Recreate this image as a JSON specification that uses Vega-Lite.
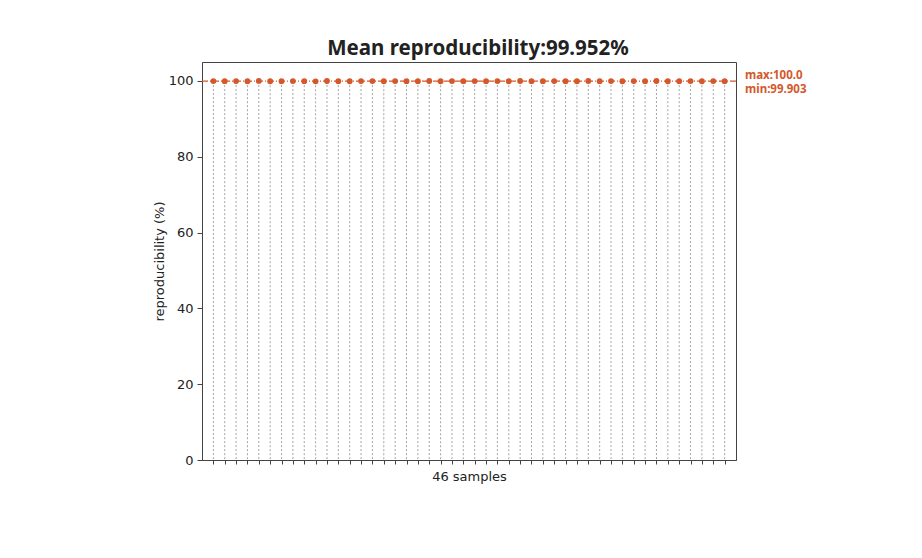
{
  "$schema": "https://vega.github.io/schema/vega-lite/v6.json",
  "width": 534,
  "height": 398,
  "autosize": {"type": "none"},
  "padding": {"left": 202, "top": 62, "right": 186, "bottom": 98},
  "background": "white",
  "config": {
    "view": {"stroke": "#444", "strokeWidth": 1},
    "font": "DejaVu Sans"
  },
  "title": {
    "text": "Mean reproducibility:99.952%",
    "font": "Noto Sans",
    "fontSize": 20.5,
    "fontWeight": "bold",
    "color": "#222",
    "anchor": "middle",
    "dx": 9,
    "offset": 3
  },
  "data": {
    "values": [
      {"sample": 1, "value": 99.961}, {"sample": 2, "value": 99.948}, {"sample": 3, "value": 99.972},
      {"sample": 4, "value": 99.935}, {"sample": 5, "value": 100.0}, {"sample": 6, "value": 99.927},
      {"sample": 7, "value": 99.954}, {"sample": 8, "value": 99.968}, {"sample": 9, "value": 99.941},
      {"sample": 10, "value": 99.903}, {"sample": 11, "value": 99.982}, {"sample": 12, "value": 99.950},
      {"sample": 13, "value": 99.930}, {"sample": 14, "value": 99.965}, {"sample": 15, "value": 99.958},
      {"sample": 16, "value": 99.921}, {"sample": 17, "value": 99.976}, {"sample": 18, "value": 99.944},
      {"sample": 19, "value": 99.952}, {"sample": 20, "value": 99.989}, {"sample": 21, "value": 99.917},
      {"sample": 22, "value": 99.960}, {"sample": 23, "value": 99.938}, {"sample": 24, "value": 99.970},
      {"sample": 25, "value": 99.946}, {"sample": 26, "value": 99.956}, {"sample": 27, "value": 99.912},
      {"sample": 28, "value": 99.985}, {"sample": 29, "value": 99.949}, {"sample": 30, "value": 99.934},
      {"sample": 31, "value": 99.966}, {"sample": 32, "value": 99.953}, {"sample": 33, "value": 99.928},
      {"sample": 34, "value": 99.979}, {"sample": 35, "value": 99.943}, {"sample": 36, "value": 99.957},
      {"sample": 37, "value": 99.924}, {"sample": 38, "value": 99.963}, {"sample": 39, "value": 99.951},
      {"sample": 40, "value": 99.995}, {"sample": 41, "value": 99.932}, {"sample": 42, "value": 99.947},
      {"sample": 43, "value": 99.969}, {"sample": 44, "value": 99.915}, {"sample": 45, "value": 99.958},
      {"sample": 46, "value": 99.940}
    ]
  },
  "encoding": {
    "x": {
      "field": "sample",
      "type": "quantitative",
      "scale": {"domain": [0, 47], "nice": false, "zero": false},
      "axis": {
        "title": "46 samples",
        "titleFont": "DejaVu Sans",
        "titleFontSize": 13,
        "titleFontWeight": "normal",
        "titleColor": "#222",
        "titlePadding": 6,
        "values": [1,2,3,4,5,6,7,8,9,10,11,12,13,14,15,16,17,18,19,20,21,22,23,24,25,26,27,28,29,30,31,32,33,34,35,36,37,38,39,40,41,42,43,44,45,46],
        "labels": false,
        "grid": false,
        "tickSize": 4,
        "tickColor": "#444",
        "domainColor": "#444"
      }
    },
    "y": {
      "field": "value",
      "type": "quantitative",
      "scale": {"domain": [0, 105], "nice": false},
      "axis": {
        "title": "reproducibility (%)",
        "titleFont": "DejaVu Sans",
        "titleFontSize": 13,
        "titleFontWeight": "normal",
        "titleColor": "#222",
        "titlePadding": 2,
        "values": [0, 20, 40, 60, 80, 100],
        "labelFont": "DejaVu Sans",
        "labelFontSize": 13,
        "labelColor": "#222",
        "labelPadding": 4,
        "grid": false,
        "tickSize": 5,
        "tickColor": "#444",
        "domainColor": "#444"
      }
    }
  },
  "layer": [
    {
      "mark": {"type": "rule", "color": "#999999", "strokeWidth": 0.9, "strokeDash": [2, 2]},
      "encoding": {"y2": {"datum": 0}}
    },
    {
      "transform": [{"filter": "datum.sample == 1"}],
      "mark": {"type": "rule", "color": "#D4582A", "strokeWidth": 1.2, "strokeDash": [6, 2, 1, 2]},
      "encoding": {
        "x": {"datum": 0},
        "x2": {"datum": 47},
        "y": {"datum": 99.952}
      }
    },
    {
      "mark": {"type": "circle", "color": "#D4582A", "opacity": 1, "size": 34},
      "encoding": {}
    },
    {
      "transform": [{"filter": "datum.sample == 1"}],
      "mark": {"type": "text", "color": "#D4582A", "font": "Noto Sans", "fontWeight": "bold", "fontSize": 11.5, "align": "left", "dx": 9, "dy": -5, "clip": false},
      "encoding": {
        "x": {"datum": 47},
        "y": {"datum": 100},
        "text": {"value": "max:100.0"}
      }
    },
    {
      "transform": [{"filter": "datum.sample == 1"}],
      "mark": {"type": "text", "color": "#D4582A", "font": "Noto Sans", "fontWeight": "bold", "fontSize": 11.5, "align": "left", "dx": 9, "dy": 9, "clip": false},
      "encoding": {
        "x": {"datum": 47},
        "y": {"datum": 100},
        "text": {"value": "min:99.903"}
      }
    }
  ]
}
